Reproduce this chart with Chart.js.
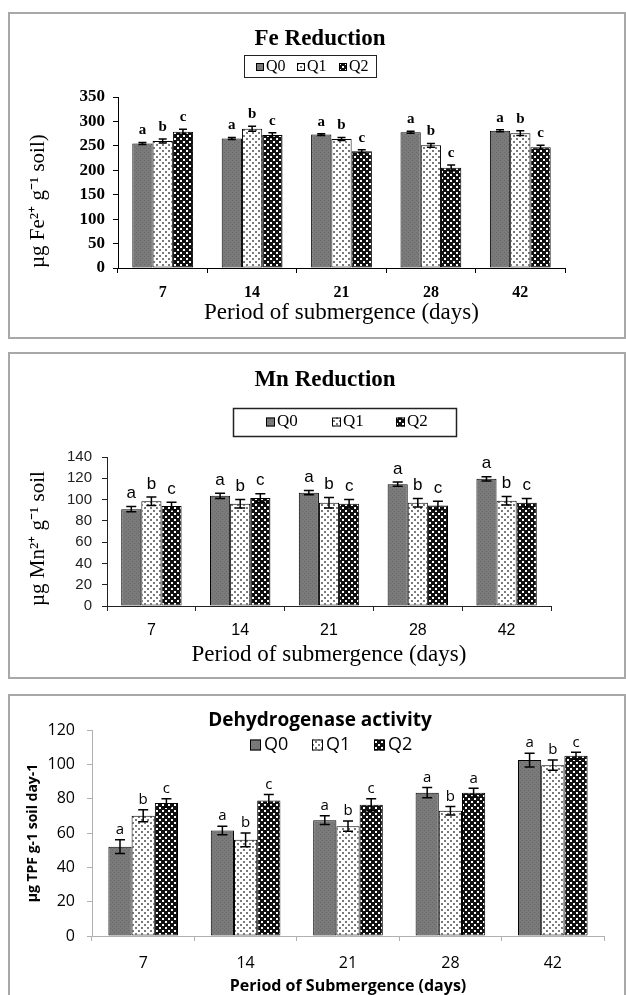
<!DOCTYPE html>
<html>
<head>
<meta charset="utf-8">
<script src="https://cdn.jsdelivr.net/npm/chart.js@4.4.1/dist/chart.umd.min.js"></script>
<style>
  html, body { margin: 0; padding: 0; background: #fff; overflow: hidden; }
  body { width: 626px; height: 995px; position: relative; }
  canvas { position: absolute; left: 0; }
  .frame { position: absolute; border: 2px solid #a8a8a8; box-sizing: border-box; pointer-events: none; }
</style>
</head>
<body>
<canvas id="feChart" width="626" height="345" style="top:0"></canvas>
<canvas id="mnChart" width="626" height="345" style="top:345px"></canvas>
<canvas id="dhChart" width="626" height="320" style="top:690px"></canvas>
<div class="frame" style="left:8px;top:12px;width:618px;height:327px"></div>
<div class="frame" style="left:8px;top:352px;width:618px;height:327px"></div>
<div class="frame" style="left:8px;top:694px;width:618px;height:330px"></div>
<script>
// categories
const days = ['7', '14', '21', '28', '42'];
const seriesNames = ['Q0', 'Q1', 'Q2'];

// Fe reduction
const feQ0 = [255, 265, 273, 278, 281];
const feQ1 = [260, 285, 264, 251, 276];
const feQ2 = [279, 272, 239, 205, 247];
const feErrQ0 = [2, 2, 2, 2, 2];
const feErrQ1 = [4, 5, 3, 4, 5];
const feErrQ2 = [5, 5, 3, 6, 4];
const feLetQ0 = ['a', 'a', 'a', 'a', 'a'];
const feLetQ1 = ['b', 'b', 'b', 'b', 'b'];
const feLetQ2 = ['c', 'c', 'c', 'c', 'c'];
const feYTicks = [0, 50, 100, 150, 200, 250, 300, 350];

// Mn reduction
const mnQ0 = [91, 103.5, 106.5, 114.5, 119.5];
const mnQ1 = [98.5, 96, 97, 97, 99];
const mnQ2 = [94, 101.5, 96, 94.5, 97];
const mnErrQ0 = [2.5, 2.5, 2, 2, 2];
const mnErrQ1 = [4, 4, 5, 4, 4];
const mnErrQ2 = [3.5, 4, 4, 4, 4];
const mnLetQ0 = ['a', 'a', 'a', 'a', 'a'];
const mnLetQ1 = ['b', 'b', 'b', 'b', 'b'];
const mnLetQ2 = ['c', 'c', 'c', 'c', 'c'];
const mnYTicks = [0, 20, 40, 60, 80, 100, 120, 140];

// Dehydrogenase activity
const dhQ0 = [52, 61.5, 67.5, 83.5, 102.5];
const dhQ1 = [70, 56, 64, 73, 99.5];
const dhQ2 = [77.5, 79, 76.5, 83.5, 105];
const dhErrQ0 = [4, 2.5, 2.5, 3, 4];
const dhErrQ1 = [3.5, 4, 3, 2.5, 3];
const dhErrQ2 = [2.5, 3.5, 3.5, 2.5, 2];
const dhLetQ0 = ['a', 'a', 'a', 'a', 'a'];
const dhLetQ1 = ['b', 'b', 'b', 'b', 'b'];
const dhLetQ2 = ['c', 'c', 'c', 'a', 'c'];
const dhYTicks = [0, 20, 40, 60, 80, 100, 120];

const SERIF = "'Liberation Serif', 'Times New Roman', serif";
const SANS = "'Liberation Sans', Arial, sans-serif";
const OPEN = "'Open Sans', sans-serif";

function makePattern(bg, dot, size, dots) {
    const c = document.createElement('canvas');
    c.width = c.height = size;
    const g = c.getContext('2d');
    g.fillStyle = bg;
    g.fillRect(0, 0, size, size);
    g.fillStyle = dot;
    dots.forEach(d => g.fillRect(d[0], d[1], d[2], d[2]));
    return g.createPattern(c, 'repeat');
}

const fills = [
    makePattern('#7a7a7a', '#686868', 4, [[0, 0, 1], [2, 2, 1]]),
    makePattern('#ffffff', '#7a7a7a', 6, [[0, 0, 2], [3, 3, 2]]),
    makePattern('#111111', '#ffffff', 6, [[0, 0, 2], [3, 3, 2]])
];

// error bars + significance letters
const errorBars = {
    id: 'errorBars',
    afterDatasetsDraw(chart, args, opts) {
        const ctx = chart.ctx, y = chart.scales.y;
        ctx.save();
        chart.data.datasets.forEach((ds, i) => {
            chart.getDatasetMeta(i).data.forEach((bar, j) => {
                const v = ds.data[j], e = ds.errors[j];
                const top = y.getPixelForValue(v + e), bot = y.getPixelForValue(v - e);
                ctx.strokeStyle = '#000';
                ctx.lineWidth = 1.5;
                ctx.beginPath();
                ctx.moveTo(bar.x, top); ctx.lineTo(bar.x, bot);
                ctx.moveTo(bar.x - opts.cap, top); ctx.lineTo(bar.x + opts.cap, top);
                ctx.moveTo(bar.x - opts.cap, bot); ctx.lineTo(bar.x + opts.cap, bot);
                ctx.stroke();
                ctx.fillStyle = '#000';
                ctx.font = opts.font;
                ctx.textAlign = 'center';
                ctx.textBaseline = 'middle';
                ctx.fillText(ds.letters[j], bar.x, top - opts.gap);
            });
        });
        ctx.restore();
    }
};

// legend drawn from the datasets
const legendBox = {
    id: 'legendBox',
    afterDraw(chart, args, opts) {
        const ctx = chart.ctx;
        ctx.save();
        if (opts.frame) {
            ctx.strokeStyle = '#222';
            ctx.lineWidth = opts.frame[4];
            ctx.strokeRect(opts.frame[0], opts.frame[1], opts.frame[2], opts.frame[3]);
        }
        ctx.font = opts.font;
        ctx.textAlign = 'left';
        ctx.textBaseline = 'middle';
        chart.data.datasets.forEach((ds, i) => {
            const x = opts.xs[i], b = opts.box;
            ctx.fillStyle = ds.backgroundColor;
            ctx.fillRect(x, opts.y - b / 2, b, b);
            ctx.strokeStyle = '#000';
            ctx.lineWidth = 1;
            ctx.strokeRect(x + 0.5, opts.y - b / 2 + 0.5, b - 1, b - 1);
            ctx.fillStyle = '#000';
            ctx.fillText(ds.label, x + b + opts.gap, opts.y);
        });
        ctx.restore();
    }
};

function makeChart(id, s) {
    return new Chart(document.getElementById(id), {
        type: 'bar',
        data: {
            labels: days,
            datasets: s.values.map((vals, i) => ({
                label: seriesNames[i],
                data: vals,
                errors: s.errors[i],
                letters: s.letters[i],
                backgroundColor: fills[i],
                borderColor: '#000',
                borderWidth: 1,
                borderSkipped: false,
                categoryPercentage: 0.68,
                barPercentage: 1
            }))
        },
        plugins: [errorBars, legendBox],
        options: {
            responsive: false,
            animation: false,
            devicePixelRatio: 1,
            layout: { padding: { left: s.padLeft, top: 0, right: 0, bottom: 0 } },
            plugins: {
                legend: { display: false },
                tooltip: { enabled: false },
                title: {
                    display: true, text: s.title, color: '#000',
                    font: s.titleFont, padding: s.titlePad
                },
                errorBars: s.err,
                legendBox: s.legend
            },
            scales: {
                x: {
                    offset: true,
                    grid: { offset: true, drawOnChartArea: false, tickLength: 5, color: s.axisColor },
                    border: { color: s.axisColor, width: 1 },
                    ticks: { color: '#000', font: s.xTickFont, padding: s.xTickPad },
                    title: { display: true, text: s.xTitle, color: '#000', font: s.xTitleFont, padding: { top: 0, bottom: s.xTitlePad } },
                    afterFit: sc => { sc.height = s.xHeight; }
                },
                y: {
                    min: s.yTicks[0],
                    max: s.yTicks[s.yTicks.length - 1],
                    grid: { drawOnChartArea: false, tickLength: 5, color: s.axisColor },
                    border: { color: s.axisColor, width: 1 },
                    ticks: { stepSize: s.yTicks[1] - s.yTicks[0], color: s.yTickColor, font: s.yTickFont, padding: s.yTickPad },
                    title: { display: true, text: s.yTitle, align: s.yTitleAlign, color: '#000', font: s.yTitleFont, padding: { top: s.yTitlePad, bottom: 0 } },
                    afterFit: sc => { sc.width = s.left - s.padLeft; }
                },
                // empty spacer on the right so the title centres over the whole panel
                spacer: {
                    type: 'linear',
                    position: 'right',
                    grid: { display: false },
                    border: { display: false },
                    ticks: { display: false },
                    afterFit: sc => { sc.width = s.right; }
                }
            }
        }
    });
}

makeChart('feChart', {
    values: [feQ0, feQ1, feQ2],
    errors: [feErrQ0, feErrQ1, feErrQ2],
    letters: [feLetQ0, feLetQ1, feLetQ2],
    yTicks: feYTicks,
    title: 'Fe Reduction',
    titleFont: { family: SERIF, size: 23, weight: 'bold' },
    titlePad: { top: 25.2, bottom: 44.2 },
    padLeft: 14, left: 118, right: 61, xHeight: 77,
    axisColor: '#000',
    xTickFont: { family: SERIF, size: 16, weight: 'bold' }, xTickPad: 10.4,
    xTitle: 'Period of submergence (days)',
    xTitleFont: { family: SERIF, size: 23 }, xTitlePad: 18.2,
    yTickFont: { family: SERIF, size: 17, weight: 'bold' }, yTickPad: 8, yTickColor: '#000',
    yTitle: 'µg Fe²⁺ g⁻¹ soil)', yTitleAlign: 'start',
    yTitleFont: { family: SERIF, size: 21 }, yTitlePad: 11.4,
    err: { cap: 4, gap: 12, font: "bold 15px " + SERIF },
    legend: { frame: [244.5, 55.5, 132, 22, 1], xs: [256, 297, 339], y: 67, box: 8, gap: 2, font: "16px " + SERIF }
});

makeChart('mnChart', {
    values: [mnQ0, mnQ1, mnQ2],
    errors: [mnErrQ0, mnErrQ1, mnErrQ2],
    letters: [mnLetQ0, mnLetQ1, mnLetQ2],
    yTicks: mnYTicks,
    title: 'Mn Reduction',
    titleFont: { family: SERIF, size: 23, weight: 'bold' },
    titlePad: { top: 21.2, bottom: 63.2 },
    padLeft: 24, left: 107, right: 75, xHeight: 84,
    axisColor: '#222',
    xTickFont: { family: SANS, size: 16 }, xTickPad: 10.4,
    xTitle: 'Period of submergence (days)',
    xTitleFont: { family: SERIF, size: 23 }, xTitlePad: 21.2,
    yTickFont: { family: SANS, size: 15 }, yTickPad: 10, yTickColor: '#222',
    yTitle: 'µg Mn²⁺ g⁻¹ soil', yTitleAlign: 'start',
    yTitleFont: { family: SERIF, size: 21 }, yTitlePad: 1.4,
    err: { cap: 5, gap: 13, font: "17px " + SANS },
    legend: { frame: [233.5, 63.5, 223, 28, 1.5], xs: [266, 332, 396], y: 77, box: 9, gap: 2, font: "17px " + SERIF }
});

makeChart('dhChart', {
    values: [dhQ0, dhQ1, dhQ2],
    errors: [dhErrQ0, dhErrQ1, dhErrQ2],
    letters: [dhLetQ0, dhLetQ1, dhLetQ2],
    yTicks: dhYTicks,
    title: 'Dehydrogenase activity',
    titleFont: { family: OPEN, size: 19, weight: 'bold' },
    titlePad: { top: 19.6, bottom: -2.4 },
    padLeft: 14, left: 92, right: 22, xHeight: 74,
    axisColor: '#b0b0b0',
    xTickFont: { family: OPEN, size: 16 }, xTickPad: 12.4,
    xTitle: 'Period of Submergence (days)',
    xTitleFont: { family: OPEN, size: 16, weight: 'bold' }, xTitlePad: 14.4,
    yTickFont: { family: OPEN, size: 16 }, yTickPad: 12, yTickColor: '#000',
    yTitle: 'µg TPF g-1 soil day-1', yTitleAlign: 'center',
    yTitleFont: { family: OPEN, size: 14, weight: 'bold' }, yTitlePad: 10.6,
    err: { cap: 5, gap: 10, font: "15px " + OPEN },
    legend: { xs: [250, 312, 374], y: 55, box: 11, gap: 3, font: "18px " + OPEN }
});
</script>
</body>
</html>
